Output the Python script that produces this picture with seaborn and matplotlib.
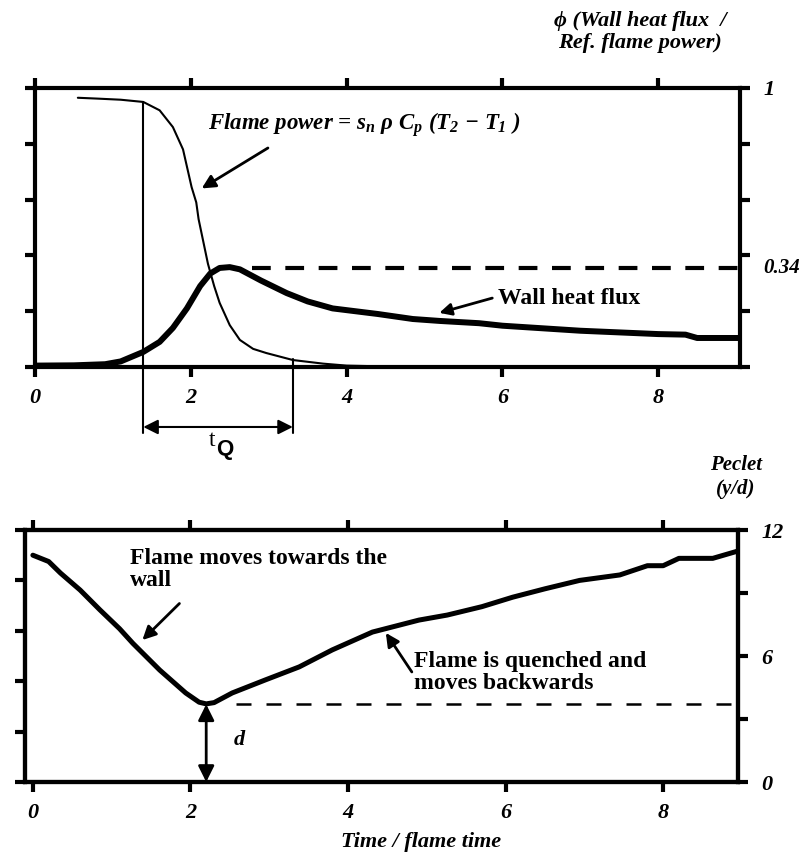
import matplotlib
matplotlib.use("Agg")
import matplotlib.pyplot as plt
import seaborn as sns
import numpy as np

# ---------------- data ----------------
t_power = [0.55, 0.8, 1.1, 1.39, 1.6, 1.77, 1.9, 2.01, 2.07, 2.1, 2.22, 2.3, 2.37, 2.5,
           2.63, 2.8, 2.97, 3.31, 3.7, 4.0, 4.5, 5.0]
power = [0.965, 0.962, 0.958, 0.95, 0.92, 0.86, 0.78, 0.645, 0.59, 0.53, 0.37, 0.29, 0.23, 0.15,
         0.097, 0.065, 0.05, 0.025, 0.012, 0.005, 0.002, 0.0]

t_flux = [0.0, 0.5, 0.9, 1.1, 1.39, 1.6, 1.77, 1.95, 2.12, 2.25, 2.37, 2.5, 2.63, 2.9,
          3.23, 3.5, 3.82, 4.4, 4.85, 5.2, 5.7, 6.0, 7.0, 8.0, 8.35, 8.5, 9.05]
flux = [0.005, 0.006, 0.01, 0.02, 0.054, 0.09, 0.14, 0.21, 0.29, 0.335, 0.355, 0.358, 0.35, 0.31,
        0.265, 0.235, 0.21, 0.19, 0.172, 0.165, 0.157, 0.148, 0.13, 0.118, 0.116, 0.104, 0.104]

t_peclet = [0.0, 0.2, 0.35, 0.6, 0.85, 1.1, 1.27, 1.61, 1.94, 2.11, 2.2, 2.3, 2.53, 2.95,
            3.38, 3.8, 4.31, 4.9, 5.26, 5.7, 6.09, 6.5, 6.94, 7.45, 7.8, 8.0, 8.2, 8.63, 8.95]
peclet = [10.8, 10.5, 9.95, 9.14, 8.2, 7.3, 6.6, 5.33, 4.24, 3.8, 3.72, 3.78, 4.24, 4.86,
          5.48, 6.29, 7.14, 7.71, 7.95, 8.35, 8.8, 9.2, 9.6, 9.86, 10.3, 10.3, 10.65, 10.65, 11.0]

phi_peak = 0.355
d_min = 3.7
t_quench_start = 1.39
t_quench_end = 3.31
t_min = 2.2

x_ticks = [0, 2, 4, 6, 8]
top_yticks = [0, 0.2, 0.4, 0.6, 0.8, 1.0]
top_right_labels = ["", "", "", "", "", "1"]
bot_left_yticks = [0, 2.4, 4.8, 7.2, 9.6, 12]
bot_right_yticks = [0, 3, 6, 9, 12]
bot_right_labels = ["0", "", "6", "", "12"]

# ---------------- style ----------------
sns.set_style("white")
plt.rcParams["font.family"] = ["Liberation Serif", "DejaVu Serif"]
plt.rcParams["font.weight"] = "bold"
plt.rcParams["font.style"] = "italic"
plt.rcParams["axes.labelweight"] = "bold"
plt.rcParams["text.color"] = "black"
plt.rcParams["axes.labelcolor"] = "black"
plt.rcParams["xtick.color"] = "black"
plt.rcParams["ytick.color"] = "black"
plt.rcParams["xtick.labelcolor"] = "black"
plt.rcParams["ytick.labelcolor"] = "black"
plt.rcParams["axes.edgecolor"] = "black"
plt.rcParams["mathtext.fontset"] = "custom"
plt.rcParams["mathtext.it"] = "Liberation Serif:italic:bold"
plt.rcParams["mathtext.rm"] = "Liberation Serif:italic:bold"
plt.rcParams["mathtext.bf"] = "Liberation Serif:italic:bold"

fig = plt.figure(figsize=(8.08, 8.56), dpi=100)
W, H = 808, 856

def px_axes(l, t, r, b):
    return fig.add_axes([l / W, 1 - b / H, (r - l) / W, (b - t) / H])

SPW = 3.0
TICKFS = 16

def style_axes(ax):
    for s in ax.spines.values():
        s.set_linewidth(SPW)
        s.set_color("black")
        s.set_visible(True)
    ax.tick_params(axis="both", direction="out", length=7, width=3, color="black",
                   labelcolor="black", labelsize=TICKFS)
    for lab in ax.get_xticklabels() + ax.get_yticklabels():
        lab.set_fontweight("bold")
        lab.set_fontstyle("italic")
    ax.set_facecolor("white")

# ---------------- top panel ----------------
ax1 = px_axes(35, 88, 740, 367)
sns.lineplot(x=t_power, y=power, ax=ax1, color="black", lw=1.5, sort=False, estimator=None)
sns.lineplot(x=t_flux, y=flux, ax=ax1, color="black", lw=4.3, sort=False, estimator=None)
ax1.set_xlim(0, 9.05)
ax1.set_ylim(0, 1)
ax1.set_xticks(x_ticks)
ax1.set_xticklabels([str(v) for v in x_ticks])
ax1.set_yticks(top_yticks)
ax1.set_yticklabels(top_right_labels)
style_axes(ax1)
ax1.tick_params(top=True, bottom=True, left=True, right=True,
                labelleft=False, labelright=True, labeltop=False, labelbottom=True)
ax1.tick_params(axis="x", pad=8)
ax1.tick_params(axis="y", pad=10)
ax1.set_xlabel("")
ax1.set_ylabel("")

# dashed peak line
ax1.plot([2.78, 9.05], [phi_peak, phi_peak], color="black", lw=3, ls=(0, (4.5, 3.5)))
ax1.text(9.35, phi_peak, "0.34", fontsize=15, ha="left", va="center", clip_on=False)

# quench-time markers
ax1.plot([t_quench_start, t_quench_start], [0.95, -0.237], color="black", lw=1.5, clip_on=False)
ax1.plot([t_quench_end, t_quench_end], [0.03, -0.237], color="black", lw=1.5, clip_on=False)
ax1.annotate("", xy=(t_quench_start, -0.215), xytext=(t_quench_end, -0.215),
             xycoords="data", annotation_clip=False,
             arrowprops=dict(arrowstyle="<|-|>", color="black", lw=1.5,
                             mutation_scale=22, shrinkA=0, shrinkB=0))
ax1.text(2.32, -0.30, r"t", fontsize=17, style="normal", weight="normal",
         ha="right", va="bottom", clip_on=False)
ax1.text(2.33, -0.335, r"Q", fontsize=16, style="normal", weight="bold",
         family="Liberation Sans", ha="left", va="bottom", clip_on=False)

# annotations
ax1.text(2.22, 0.87, r"Flame power = $s_{n}\ \rho\ C_{p}\ (T_{2}\ \mathbf{-}\ T_{1}\ )$",
         fontsize=16.5, ha="left", va="center")
ax1.annotate("", xy=(2.14, 0.64), xytext=(2.99, 0.785),
             arrowprops=dict(arrowstyle="-|>", color="black", lw=2, mutation_scale=20,
                             shrinkA=0, shrinkB=0))
ax1.text(5.94, 0.245, "Wall heat flux", fontsize=17, style="normal", ha="left", va="center")
ax1.annotate("", xy=(5.19, 0.194), xytext=(5.87, 0.247),
             arrowprops=dict(arrowstyle="-|>", color="black", lw=2, mutation_scale=18,
                             shrinkA=0, shrinkB=0))

fig.text(640 / W, 1 - 32 / H, "\u03d5 (Wall heat flux  /\nRef. flame power)", fontsize=16,
         ha="center", va="center", linespacing=1.1)

# ---------------- bottom panel ----------------
ax2 = px_axes(25, 530, 738, 782)
sns.lineplot(x=t_peclet, y=peclet, ax=ax2, color="black", lw=3.6, sort=False, estimator=None)
ax2.set_xlim(-0.1, 8.95)
ax2.set_ylim(0, 12)
ax2.set_xticks(x_ticks)
ax2.set_xticklabels([str(v) for v in x_ticks])
ax2.set_yticks(bot_left_yticks)
ax2.set_yticklabels([])
style_axes(ax2)
ax2.tick_params(top=True, bottom=True, left=True, right=False,
                labelleft=False, labeltop=False, labelbottom=True)
ax2.tick_params(axis="x", pad=8)
ax2.set_xlabel("Time / flame time", fontsize=16, fontweight="bold", fontstyle="italic",
               color="black")
ax2.xaxis.set_label_coords((421 - 25) / 713, -0.2)
ax2.set_ylabel("")

ax2r = ax2.twinx()
ax2r.set_ylim(0, 12)
ax2r.set_yticks(bot_right_yticks)
ax2r.set_yticklabels(bot_right_labels)
style_axes(ax2r)
ax2r.tick_params(axis="y", pad=10)
ax2r.grid(False)

ax2.plot([2.58, 8.95], [d_min, d_min], color="black", lw=1.8, ls=(0, (6, 6)))
ax2.annotate("", xy=(t_min, 0), xytext=(t_min, d_min),
             arrowprops=dict(arrowstyle="<|-|>", color="black", lw=2, mutation_scale=24,
                             shrinkA=0, shrinkB=0))
ax2.text(2.55, 2.0, "d", fontsize=16, ha="left", va="center")

ax2.text(1.23, 11.15, "Flame moves towards the\nwall", fontsize=17, style="normal",
         ha="left", va="top", linespacing=1.08)
ax2.annotate("", xy=(1.39, 6.76), xytext=(1.86, 8.5),
             arrowprops=dict(arrowstyle="-|>", color="black", lw=2, mutation_scale=20,
                             shrinkA=0, shrinkB=0))
ax2.text(4.84, 6.25, "Flame is quenched and\nmoves backwards", fontsize=17, style="normal",
         ha="left", va="top", linespacing=1.08)
ax2.annotate("", xy=(4.48, 7.1), xytext=(4.81, 5.24),
             arrowprops=dict(arrowstyle="-|>", color="black", lw=2, mutation_scale=20,
                             shrinkA=0, shrinkB=0))

fig.text(736 / W, 1 - 477 / H, "Peclet\n(y/d)", fontsize=15, ha="center", va="center",
         linespacing=1.25)

fig.savefig("out.png", dpi=100, facecolor="white")
